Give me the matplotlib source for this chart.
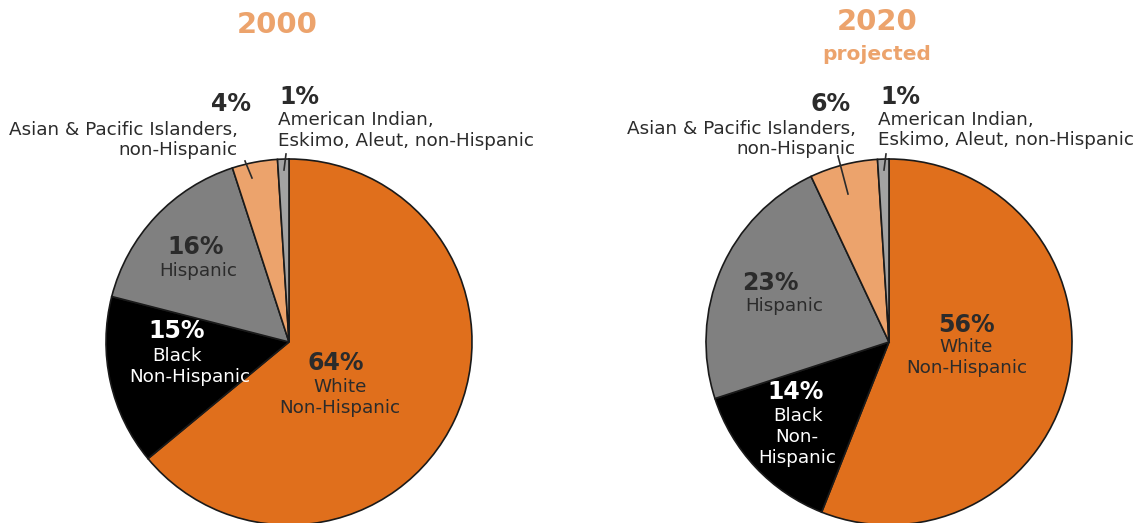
import matplotlib.pyplot as plt

# share of population by group, percent
groups = ["White Non-Hispanic", "Black Non-Hispanic", "Hispanic",
          "Asian & Pacific Islanders, non-Hispanic",
          "American Indian, Eskimo, Aleut, non-Hispanic"]
share_2000 = [64, 15, 16, 4, 1]
share_2020 = [56, 14, 23, 6, 1]
colors = ["#e06f1c", "#000000", "#808080", "#eca36c", "#a3a3a3"]

dark = "#2b2b2b"
peach = "#eca36c"

fig = plt.figure(figsize=(11.44, 5.23), dpi=100)
ax = fig.add_axes([0, 0, 1, 1])

# pixel-like coordinates, y going down
for vals, cx in [(share_2000, 289), (share_2020, 889)]:
    ax.pie(vals, colors=colors, startangle=-90, counterclock=True,
           center=(cx, 342), radius=183,
           wedgeprops=dict(edgecolor="#1a1a1a", linewidth=1.2))

ax.set_xlim(0, 1144)
ax.set_ylim(523, 0)
ax.set_aspect("equal")
ax.axis("off")

PS = 17   # percent size
LS = 13.2 # label size
big = dict(fontsize=PS, fontweight="bold", ha="center", va="center")
small = dict(fontsize=LS, ha="center", va="center")

# titles
ax.text(277, 25, "2000", color=peach, fontsize=21, fontweight="bold", ha="center", va="center")
ax.text(877, 22, "2020", color=peach, fontsize=21, fontweight="bold", ha="center", va="center")
ax.text(877, 55, "projected", color=peach, fontsize=14.5, fontweight="bold", ha="center", va="center")

# ---- 2000 ----
ax.text(336, 363, f"{share_2000[0]}%", color=dark, **big)
ax.text(340, 387, "White", color=dark, **small)
ax.text(340, 408, "Non-Hispanic", color=dark, **small)

ax.text(177, 331, f"{share_2000[1]}%", color="white", **big)
ax.text(177, 356, "Black", color="white", **small)
ax.text(190, 377, "Non-Hispanic", color="white", **small)

ax.text(196, 247, f"{share_2000[2]}%", color=dark, **big)
ax.text(198, 271, "Hispanic", color=dark, **small)

ax.text(251, 104, f"{share_2000[3]}%", color=dark, fontsize=PS, fontweight="bold", ha="right", va="center")
ax.text(238, 130, "Asian & Pacific Islanders,", color=dark, fontsize=LS, ha="right", va="center")
ax.text(238, 150, "non-Hispanic", color=dark, fontsize=LS, ha="right", va="center")
ax.plot([245, 252], [161, 178], color=dark, lw=1.2)

ax.text(279, 97, f"{share_2000[4]}%", color=dark, fontsize=PS, fontweight="bold", ha="left", va="center")
ax.text(278, 120, "American Indian,", color=dark, fontsize=LS, ha="left", va="center")
ax.text(278, 141, "Eskimo, Aleut, non-Hispanic", color=dark, fontsize=LS, ha="left", va="center")
ax.plot([286, 284], [154, 170], color=dark, lw=1.2)

# ---- 2020 ----
ax.text(966, 325, f"{share_2020[0]}%", color=dark, **big)
ax.text(966, 347, "White", color=dark, **small)
ax.text(967, 368, "Non-Hispanic", color=dark, **small)

ax.text(796, 392, f"{share_2020[1]}%", color="white", **big)
ax.text(798, 416, "Black", color="white", **small)
ax.text(797, 437, "Non-", color="white", **small)
ax.text(797, 458, "Hispanic", color="white", **small)

ax.text(770, 283, f"{share_2020[2]}%", color=dark, **big)
ax.text(784, 306, "Hispanic", color=dark, **small)

ax.text(851, 104, f"{share_2020[3]}%", color=dark, fontsize=PS, fontweight="bold", ha="right", va="center")
ax.text(856, 129, "Asian & Pacific Islanders,", color=dark, fontsize=LS, ha="right", va="center")
ax.text(856, 149, "non-Hispanic", color=dark, fontsize=LS, ha="right", va="center")
ax.plot([838, 848], [156, 194], color=dark, lw=1.2)

ax.text(880, 97, f"{share_2020[4]}%", color=dark, fontsize=PS, fontweight="bold", ha="left", va="center")
ax.text(878, 120, "American Indian,", color=dark, fontsize=LS, ha="left", va="center")
ax.text(878, 140, "Eskimo, Aleut, non-Hispanic", color=dark, fontsize=LS, ha="left", va="center")
ax.plot([886, 884], [154, 170], color=dark, lw=1.2)

fig.savefig("out.png", dpi=100)
